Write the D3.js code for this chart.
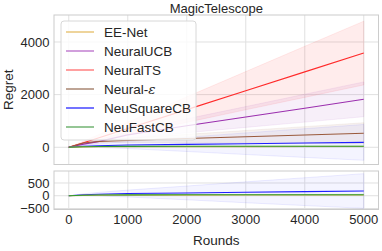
<!DOCTYPE html>
<html><head><meta charset="utf-8">
<script src="https://cdn.jsdelivr.net/npm/d3@7"></script>
<style>body{margin:0;background:#fff}svg{display:block;font-family:"Liberation Sans",Arial,sans-serif}</style>
</head><body><svg id="c" width="382" height="251"></svg>
<script>
const rounds = [0, 250, 500, 1000, 2000, 3000, 4000, 5000];
const eeNet      = [0, 14, 19, 22, 25, 26, 27, 28];
const neuralUCB  = [0, 120, 215, 470, 815, 1150, 1485, 1822];
const neuralTS   = [0, 170, 355, 715, 1430, 2150, 2865, 3579];
const neuralEps  = [0, 160, 220, 262, 330, 397, 464, 531];
const neuSquare  = [0, 40, 60, 85, 110, 135, 160, 185];
const neuFast    = [0, 20, 28, 33, 37, 38, 39, 40];
const eeNetStd     = [0, 3, 5, 8, 10, 12, 13, 15];
const neuralUCBStd = [0, 30, 65, 130, 265, 395, 530, 660];
const neuralTSStd  = [0, 60, 120, 240, 485, 725, 970, 1210];
const neuralEpsStd = [0, 20, 40, 80, 160, 240, 320, 400];
const neuSquareStd = [0, 35, 70, 135, 270, 410, 545, 680];
const neuFastStd   = [0, 2, 4, 6, 10, 13, 16, 20];
const names  = ["EE-Net", "NeuralUCB", "NeuralTS", "Neural-", "NeuSquareCB", "NeuFastCB"];
const lineColors   = ["#e0b860", "#9b2fae", "#ff2a2a", "#9a5a3c", "#1f1fff", "#2e9a2e"];
const legendColors = ["#e8c67a", "#c27fd0", "#ff8080", "#a88672", "#4545ff", "#72b372"];
const bandOpacity  = [0.08, 0.08, 0.09, 0.08, 0.05, 0.08];
const xTicks = [0, 1000, 2000, 3000, 4000, 5000];
const yTicksTop = [0, 2000, 4000];
const yTicksBottom = [-500, 0, 500];

const series = [eeNet, neuralUCB, neuralTS, neuralEps, neuSquare, neuFast];
const stds = [eeNetStd, neuralUCBStd, neuralTSStd, neuralEpsStd, neuSquareStd, neuFastStd];
const drawOrder = [2, 1, 3, 4, 0, 5];
const bottomSeries = [4, 0, 5];

const svg = d3.select("#c");
const L = 54, R = 378.5;
const x = d3.scaleLinear().domain([-250, 5250]).range([L, R]);
const topP = {y0: 15, y1: 164.5, dom: [-655, 5025], ticks: yTicksTop, idx: drawOrder};
const botP = {y0: 171, y1: 209.5, dom: [-540, 970], ticks: yTicksBottom, idx: bottomSeries};
const gridC = "#e0e0e0", frameC = "#cccccc", textC = "#262626";

[topP, botP].forEach((p, pi) => {
  const y = d3.scaleLinear().domain(p.dom).range([p.y1, p.y0]);
  const cid = "clip" + pi;
  svg.append("clipPath").attr("id", cid).append("rect")
    .attr("x", L).attr("y", p.y0).attr("width", R - L).attr("height", p.y1 - p.y0);
  const g = svg.append("g");
  g.selectAll(".vx").data(xTicks).join("line")
    .attr("x1", d => x(d)).attr("x2", d => x(d)).attr("y1", p.y0).attr("y2", p.y1)
    .attr("stroke", gridC).attr("stroke-width", 1);
  g.selectAll(".hy").data(p.ticks).join("line")
    .attr("x1", L).attr("x2", R).attr("y1", d => y(d)).attr("y2", d => y(d))
    .attr("stroke", gridC).attr("stroke-width", 1);
  const pg = svg.append("g").attr("clip-path", `url(#${cid})`);
  const area = (s, sd) => d3.area().x((d, i) => x(rounds[i])).y0((d, i) => y(s[i] - sd[i])).y1((d, i) => y(s[i] + sd[i]));
  const line = s => d3.line().x((d, i) => x(rounds[i])).y((d, i) => y(s[i]));
  p.idx.forEach(k => {
    pg.append("path").attr("d", area(series[k], stds[k])(rounds))
      .attr("fill", lineColors[k]).attr("fill-opacity", bandOpacity[k]).attr("stroke", lineColors[k]).attr("stroke-opacity", 0.1).attr("stroke-width", 0.8);
  });
  p.idx.forEach(k => {
    pg.append("path").attr("d", line(series[k])(rounds))
      .attr("fill", "none").attr("stroke", lineColors[k]).attr("stroke-width", 1.1);
  });
  svg.append("rect").attr("x", L).attr("y", p.y0).attr("width", R - L).attr("height", p.y1 - p.y0)
    .attr("fill", "none").attr("stroke", frameC).attr("stroke-width", 1);
  svg.append("g").selectAll("text").data(p.ticks).join("text")
    .attr("x", 49.5).attr("y", d => y(d)).attr("dy", "0.35em").attr("text-anchor", "end")
    .attr("font-size", 13).attr("fill", textC)
    .text(d => d < 0 ? "\u2212" + Math.abs(d) : d);
  if (pi === 1) {
    svg.append("g").selectAll("text").data(xTicks).join("text")
      .attr("x", d => x(d)).attr("y", 224).attr("text-anchor", "middle")
      .attr("font-size", 13).attr("fill", textC).text(d => d);
  }
});

svg.append("text").attr("x", (L + R) / 2).attr("y", 13).attr("text-anchor", "middle")
  .attr("font-size", 13).attr("fill", textC).text("MagicTelescope");
svg.append("text").attr("x", (L + R) / 2).attr("y", 245).attr("text-anchor", "middle")
  .attr("font-size", 13.5).attr("fill", textC).text("Rounds");
svg.append("text").attr("transform", `translate(13,${(topP.y0 + topP.y1) / 2}) rotate(-90)`)
  .attr("text-anchor", "middle").attr("font-size", 13.5).attr("fill", textC).text("Regret");

const lg = svg.append("g");
lg.append("rect").attr("x", 61).attr("y", 21).attr("width", 135).attr("height", 119).attr("rx", 3)
  .attr("fill", "#fff").attr("fill-opacity", 0.8).attr("stroke", "#d8d8d8").attr("stroke-width", 1);
names.forEach((n, i) => {
  const yy = 32 + i * 19;
  lg.append("line").attr("x1", 66).attr("x2", 94).attr("y1", yy).attr("y2", yy)
    .attr("stroke", legendColors[i]).attr("stroke-width", 1.5);
  const t = lg.append("text").attr("x", 104).attr("y", yy).attr("dy", "0.36em")
    .attr("font-size", 13.5).attr("fill", textC).text(n);
  if (i === 3) t.append("tspan").attr("font-family", "DejaVu Serif").attr("font-style", "italic").text("\u03B5");
});
</script></body></html>
